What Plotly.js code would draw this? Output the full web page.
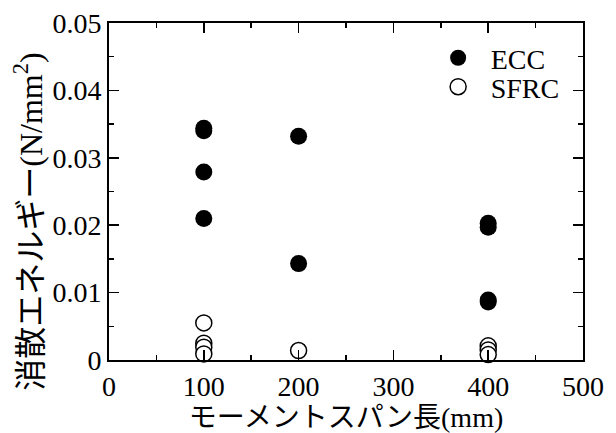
<!DOCTYPE html>
<html>
<head>
<meta charset="utf-8">
<script src="https://cdn.plot.ly/plotly-3.0.1.min.js"></script>
<style>html,body{margin:0;padding:0;background:#fff;}#chart{width:616px;height:433px;}</style>
</head>
<body>
<div id="chart"></div>
<script>
// Data
const eccSpan = [100, 100, 100, 100, 200, 200, 400, 400, 400, 400];
const eccEnergy = [0.0344, 0.0340, 0.0279, 0.0210, 0.0332, 0.0143, 0.0203, 0.0197, 0.0089, 0.0086];
const sfrcSpan = [100, 100, 100, 100, 200, 400, 400, 400];
const sfrcEnergy = [0.0055, 0.0025, 0.0019, 0.0009, 0.0014, 0.0021, 0.0015, 0.0008];
const seriesNames = ["ECC", "SFRC"];
const xTitle = "モーメントスパン長(mm)";
const yTitle = "消散エネルギー(N/mm<sup>2</sup>)";

const FONT = "'Liberation Serif', 'Noto Sans CJK JP', serif";
function fnt(size) { return {family: FONT, size: size, color: "#000"}; }

const traces = [
  {
    x: eccSpan, y: eccEnergy, name: seriesNames[0], type: "scatter", mode: "markers",
    cliponaxis: false,
    marker: {symbol: "circle", size: 17, color: "#000", line: {width: 0}},
    legend: "legend"
  },
  {
    x: sfrcSpan, y: sfrcEnergy, name: seriesNames[1], type: "scatter", mode: "markers",
    cliponaxis: false,
    marker: {symbol: "circle", size: 16, color: "#fff", line: {width: 1.5, color: "#000"}},
    legend: "legend2"
  }
];

function axis(extra) {
  return Object.assign({
    showline: true, linewidth: 2, linecolor: "#000", mirror: "allticks",
    ticks: "inside", ticklen: 10, tickwidth: 1.5, tickcolor: "#000",
    showgrid: false, zeroline: false,
    tickfont: fnt(28)
  }, extra);
}

const layout = {
  width: 616, height: 433,
  margin: {l: 109, r: 33, t: 23, b: 73},
  paper_bgcolor: "#fff", plot_bgcolor: "#fff",
  xaxis: axis({
    range: [0, 500], dtick: 100, tick0: 0,
    minor: {dtick: 50, ticks: "inside", ticklen: 5, tickwidth: 1.5, tickcolor: "#000", showgrid: false},
    title: {text: xTitle, font: fnt(28), standoff: 2}
  }),
  yaxis: axis({
    range: [0, 0.05], dtick: 0.01, tick0: 0,
    minor: {dtick: 0.005, ticks: "inside", ticklen: 5, tickwidth: 1.5, tickcolor: "#000", showgrid: false}
  }),
  annotations: [{
    text: yTitle, textangle: -90, xref: "paper", yref: "paper",
    x: -0.171, y: 0.41, xanchor: "center", yanchor: "middle", showarrow: false,
    font: fnt(32)
  }],
  showlegend: true,
  legend: {x: 0.668, y: 0.896, xanchor: "left", yanchor: "middle", bgcolor: "rgba(0,0,0,0)",
    font: fnt(28), itemwidth: 55},
  legend2: {x: 0.668, y: 0.81, xanchor: "left", yanchor: "middle", bgcolor: "rgba(0,0,0,0)",
    font: fnt(28), itemwidth: 55}
};

Plotly.newPlot("chart", traces, layout, {displayModeBar: false, staticPlot: true});
</script>
</body>
</html>
